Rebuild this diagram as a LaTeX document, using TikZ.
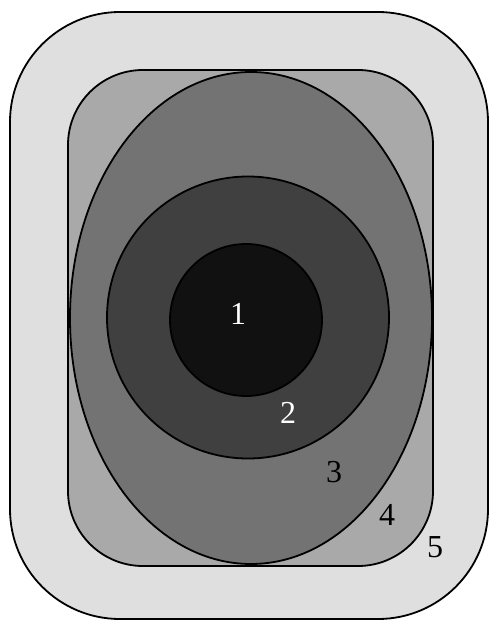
\documentclass[tikz,border=0pt]{standalone}
\usepackage{fontspec}
\setmainfont{Liberation Serif}
\begin{document}
\begin{tikzpicture}[x=1pt,y=-1pt,
  ring/.style={draw=black,line width=1.8pt},
  lbl/.style={font=\fontsize{32}{32}\selectfont,inner sep=0pt}]
\useasboundingbox (0,0) rectangle (490,621);
\filldraw[ring,fill={rgb,255:red,223;green,223;blue,223},rounded corners=110pt] (10,12) rectangle (488,619);
\filldraw[ring,fill={rgb,255:red,169;green,169;blue,169},rounded corners=75pt] (68,70) rectangle (433,566);
\filldraw[ring,fill={rgb,255:red,115;green,115;blue,115}] (251,318) ellipse [x radius=181, y radius=246];
\filldraw[ring,fill={rgb,255:red,64;green,64;blue,64}] (248,317.5) circle [radius=141];
\filldraw[ring,fill={rgb,255:red,17;green,17;blue,17}] (246,320) circle [radius=76];
\node[lbl,text=white] (l1) at (238,314) {1};
\node[lbl,text=white] (l2) at (288,413) {2};
\node[lbl] (l3) at (334,472) {3};
\node[lbl] (l4) at (387,515) {4};
\node[lbl] (l5) at (435,547) {5};
\end{tikzpicture}
\end{document}
